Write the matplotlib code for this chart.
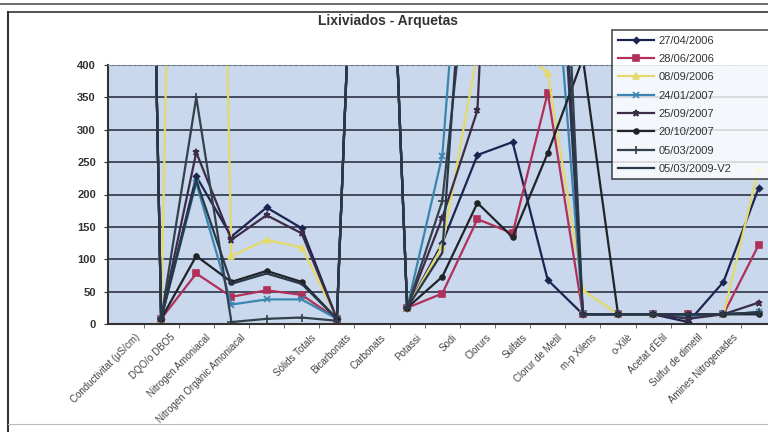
import numpy as np
import matplotlib
matplotlib.use('Agg')
import matplotlib.pyplot as plt
import matplotlib.transforms as mtransforms
from matplotlib.lines import Line2D

plt.rcParams['font.family'] = ['Liberation Sans', 'DejaVu Sans']

# categories (two labels are blank in the original)
categories = ['Conductivitat (µS/cm)', 'DQO/o DBO5', 'Nitrogen Amoniacal',
              'Nitrogen Orgànic Amoniacal', '', 'Sòlids Totals', 'Bicarbonats',
              'Carbonats', 'Potassi', 'Sodi', 'Clorurs', 'Sulfats',
              'Clorur de Metil', 'm-p Xilens', 'o-Xilè', "Acetat d'Etil",
              'Sulfur de dimetil', 'Amines Nitrogenades', '']

s_27_04_2006 = [2800, 8, 228, 135, 180, 148, 8, 1400, 25, 125, 261, 281, 68, 15, 15, 15, 3, 65, 210]
s_28_06_2006 = [2800, 8, 78, 42, 52, 45, 8, 1400, 25, 47, 162, 140, 357, 15, 15, 15, 15, 15, 122]
s_08_09_2006 = [2800, 5, 2700, 105, 130, 118, 10, 1400, 25, 120, 420, 430, 388, 52, 15, 15, 15, 15, 240]
s_24_01_2007 = [2800, 8, 218, 30, 38, 38, 8, 1400, 25, 260, 960, 1200, 700, 15, 15, 15, 12, 15, 18]
s_25_09_2007 = [2800, 8, 265, 130, 168, 140, 8, 1400, 25, 164, 330, 1500, 900, 15, 15, 15, 8, 15, 33]
s_20_10_2007 = [2800, 8, 105, 65, 82, 65, 8, 1400, 25, 73, 187, 134, 264, 410, 15, 15, 15, 15, 15]
s_05_03_2009 = [2800, 8, 350, 3, 8, 10, 5, 1400, 25, 190, 700, 1600, 1200, 15, 15, 15, 15, 15, 18]
s_05_03_2009_v2 = [2800, 8, 222, 62, 78, 62, 8, 1400, 25, 110, 900, 1300, 1000, 15, 15, 15, 15, 15, 18]

series_labels = ['27/04/2006', '28/06/2006', '08/09/2006', '24/01/2007',
                 '25/09/2007', '20/10/2007', '05/03/2009', '05/03/2009-V2']
series = [s_27_04_2006, s_28_06_2006, s_08_09_2006, s_24_01_2007,
          s_25_09_2007, s_20_10_2007, s_05_03_2009, s_05_03_2009_v2]
colors = ['#1c2450', '#b0305a', '#e4da6c', '#3a86b0', '#3c2c48', '#202428', '#34404c', '#283848']
markers = ['D', 's', '^', 'x', '*', 'o', '+', None]
msizes = [3, 4, 4, 5, 5, 3.5, 6, 0]

W, H = 768, 432
fig = plt.figure(figsize=(W / 100, H / 100), dpi=100, facecolor='white')

# outer frame of the scanned chart
fig.add_artist(Line2D([0, 1], [1 - 4 / H, 1 - 4 / H], color='#555555', lw=1.2))
fig.add_artist(Line2D([8 / W, 1], [1 - 12 / H, 1 - 12 / H], color='#333333', lw=1.2))
fig.add_artist(Line2D([8 / W, 8 / W], [0, 1 - 12 / H], color='#333333', lw=1.5))
fig.add_artist(Line2D([8 / W, 1], [1 - 424 / H, 1 - 424 / H], color='#bbbbbb', lw=0.8))

x0, x1 = 108.4, 776.2
y0, y1 = 324, 65
ax = fig.add_axes([x0 / W, 1 - y0 / H, (x1 - x0) / W, (y0 - y1) / H])
ax.set_facecolor('#c9d8ec')

x = np.arange(len(categories))
for vals, lab, c, m, ms in zip(series, series_labels, colors, markers, msizes):
    ax.plot(x, vals, color=c, lw=1.6, marker=m, ms=ms, mew=1.2, label=lab)

ax.set_xlim(-0.5, len(categories) - 0.5)
ax.set_ylim(0, 400)
ax.set_yticks(np.arange(0, 401, 50))
ax.yaxis.grid(True, color='#3a4050', lw=1.3)
ax.set_axisbelow(True)
ax.tick_params(axis='y', labelsize=8, colors='#333333', length=3, pad=6)
for t in ax.get_yticklabels():
    t.set_fontweight('bold')

ax.set_xticks(x)
ax.set_xticklabels(categories, rotation=45, ha='right', rotation_mode='anchor',
                   fontsize=7, color='#444444')
ax.tick_params(axis='x', length=0, pad=6)
ax.set_xticks(x[:-1] + 0.5, minor=True)
ax.tick_params(axis='x', which='minor', length=3, color='#555555')
off = mtransforms.ScaledTranslation(9 / 100, 0, fig.dpi_scale_trans)
for t in ax.get_xticklabels():
    t.set_transform(t.get_transform() + off)

for side in ['left', 'bottom']:
    ax.spines[side].set_color('#333333')
    ax.spines[side].set_linewidth(1.5)
ax.spines['top'].set_color('#8090a0')
ax.spines['top'].set_linestyle((0, (3, 2)))
ax.spines['right'].set_visible(False)

fig.text(388 / W, 1 - 21 / H, 'Lixiviados - Arquetas', ha='center', va='center',
         fontsize=10, fontweight='bold', color='#333333')

# legend box runs off the right edge like in the scan
leg = fig.legend(loc='upper left', bbox_to_anchor=(612 / W, 1 - 30 / H, 175 / W, 0),
                 mode='expand', fontsize=8, frameon=True, fancybox=False,
                 edgecolor='#222222', handlelength=3.3, handletextpad=0.4,
                 labelspacing=0.75, borderpad=0.5, borderaxespad=0)
leg.get_frame().set_linewidth(1.2)
for t in leg.get_texts():
    t.set_color('#333333')

fig.savefig('out.png', dpi=100, facecolor='white')
